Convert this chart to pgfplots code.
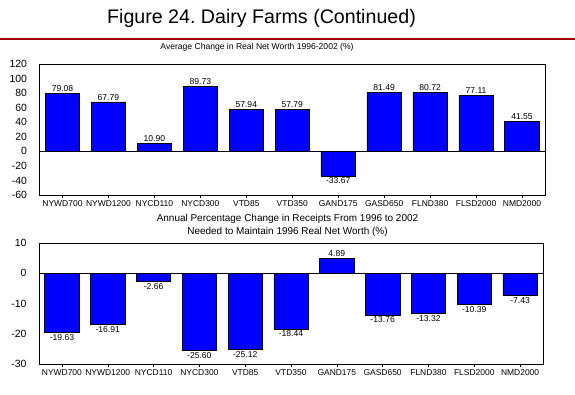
\documentclass[border=0pt]{standalone}
\usepackage{pgfplots}
\pgfplotsset{compat=1.18}
\usepackage{fontspec}
\setmainfont{Liberation Sans}
\definecolor{titlered}{RGB}{160,0,0}
\definecolor{barblue}{RGB}{0,0,255}
\frenchspacing
\begin{document}
\begin{tikzpicture}
\useasboundingbox[fill=white] (0bp,0bp) rectangle (575bp,395bp);
\node[font=\fontsize{19.7}{22}\selectfont] at (261.5bp,376.5bp) {Figure 24. Dairy Farms (Continued)};
\draw[titlered, line width=2bp] (0bp,356bp) -- (575bp,356bp);
\node[font=\fontsize{8.6}{10}\selectfont] at (257bp,348bp) {Average Change in Real Net Worth 1996-2002 (\%)};
\node[font=\fontsize{10}{13}\selectfont, align=center] at (287.5bp,170bp) {Annual Percentage Change in Receipts From 1996 to 2002\\Needed to Maintain 1996 Real Net Worth (\%)};
\pgfplotsset{
  mystyle/.style={
    scale only axis,
    ybar,
    bar width=0.75,
    xmin=-0.5, xmax=10.5,
    xtick=data,
    xticklabels={NYWD700,NYWD1200,NYCD110,NYCD300,VTD85,VTD350,GAND175,GASD650,FLND380,FLSD2000,NMD2000},
    x tick label style={font=\fontsize{8.5}{9}\selectfont, yshift=1bp},
    y tick label style={font=\fontsize{10.5}{11}\selectfont, xshift=-6bp},
    /pgf/number format/assume math mode=true,
    xtick pos=bottom, ytick pos=left,
    xtick style={draw=black, thin},
    ytick style={draw=none},
    tick align=outside,
    major tick length=3bp,
    axis line style={black, line width=0.8bp},
    nodes near coords={\pgfmathprintnumber[fixed,zerofill,precision=2,assume math mode=true]{\pgfplotspointmeta}},
    nodes near coords style={font=\fontsize{8.6}{9}\selectfont, inner sep=1.5bp, text=black},
    clip=false,
  }
}
\begin{axis}[mystyle,
  at={(39.5bp,200bp)}, anchor=south west,
  width=505.5bp, height=131bp,
  ymin=-60, ymax=120, ytick={-60,-40,...,120},
]
\addplot[fill=barblue, draw=black, line width=0.6bp] coordinates {(0,79.08) (1,67.79) (2,10.90) (3,89.73) (4,57.94) (5,57.79) (6,-33.67) (7,81.49) (8,80.72) (9,77.11) (10,41.55)};
\draw[black, line width=0.6bp] (axis cs:-0.5,0) -- (axis cs:10.5,0);
\end{axis}
\begin{axis}[mystyle,
  at={(39bp,31bp)}, anchor=south west,
  width=504bp, height=121bp,
  ymin=-30, ymax=10, ytick={-30,-20,...,10},
]
\addplot[fill=barblue, draw=black, line width=0.6bp] coordinates {(0,-19.63) (1,-16.91) (2,-2.66) (3,-25.60) (4,-25.12) (5,-18.44) (6,4.89) (7,-13.76) (8,-13.32) (9,-10.39) (10,-7.43)};
\draw[black, line width=0.6bp] (axis cs:-0.5,0) -- (axis cs:10.5,0);
\end{axis}
\end{tikzpicture}
\end{document}
